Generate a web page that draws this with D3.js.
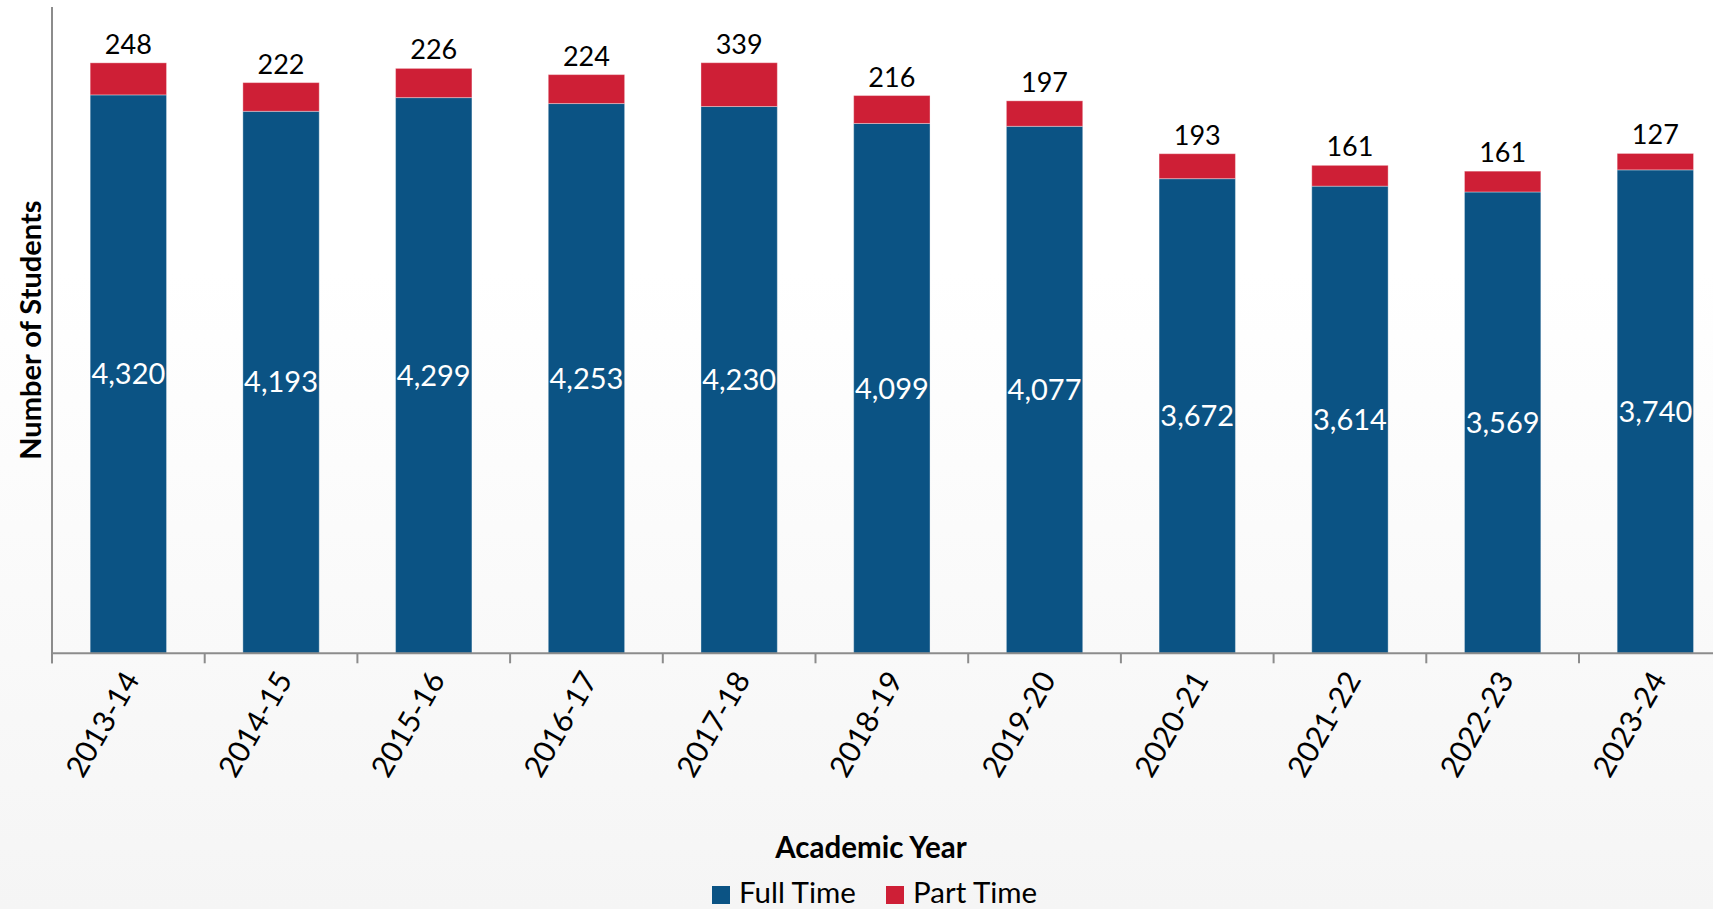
<!DOCTYPE html>
<html>
<head>
<meta charset="utf-8">
<script src="https://cdn.jsdelivr.net/npm/d3@7"></script>
<style>
  html, body { margin: 0; padding: 0; overflow: hidden; }
  body { width: 1713px; height: 909px; background: linear-gradient(#ffffff 0%, #ffffff 30%, #f5f5f5 100%); }
  svg { display: block; font-family: Lato, "Open Sans", sans-serif; }
</style>
</head>
<body>
<svg id="chart" width="1713" height="909"></svg>
<script>
const years = ["2013-14","2014-15","2015-16","2016-17","2017-18","2018-19","2019-20","2020-21","2021-22","2022-23","2023-24"];
const fullTime = [4320, 4193, 4299, 4253, 4230, 4099, 4077, 3672, 3614, 3569, 3740];
const partTime = [248, 222, 226, 224, 339, 216, 197, 193, 161, 161, 127];
const seriesNames = ["Full Time", "Part Time"];
const seriesColors = ["#0b5384", "#ce1f36"];
const yMax = 5000;

const svg = d3.select("#chart");
const plotLeft = 52, plotTop = 7, baseline = 653.3;
const step = 152.7;

const x = d3.scaleBand().domain(years).range([plotLeft, plotLeft + step * years.length]).paddingInner(0.5).paddingOuter(0.25);
const y = d3.scaleLinear().domain([0, yMax]).range([baseline, plotTop]);

const data = years.map((yr, i) => ({ year: yr, ft: fullTime[i], pt: partTime[i] }));
const stack = d3.stack().keys(["ft", "pt"])(data);

const g = svg.append("g");
stack.forEach((layer, li) => {
  g.selectAll(null).data(layer).enter().append("rect")
    .attr("x", d => x(d.data.year))
    .attr("width", x.bandwidth())
    .attr("y", d => y(d[1]))
    .attr("height", d => y(d[0]) - y(d[1]))
    .attr("fill", seriesColors[li])
    .attr("stroke", "rgba(255,255,255,0.35)")
    .attr("stroke-width", 1);
});

// Axes
const axisColor = "#8c8c8c";
svg.append("line").attr("x1", plotLeft).attr("x2", 1713).attr("y1", baseline).attr("y2", baseline)
  .attr("stroke", axisColor).attr("stroke-width", 2);
svg.append("line").attr("x1", plotLeft).attr("x2", plotLeft).attr("y1", plotTop).attr("y2", baseline + 10)
  .attr("stroke", axisColor).attr("stroke-width", 2);
const tickXs = years.map(yr => x(yr) - x.step() * 0.25);
svg.selectAll(null).data(tickXs).enter().append("line")
  .attr("x1", d => d).attr("x2", d => d).attr("y1", baseline).attr("y2", baseline + 10)
  .attr("stroke", axisColor).attr("stroke-width", 2);

// Labels: part time above
svg.selectAll(null).data(data).enter().append("text")
  .attr("x", d => x(d.year) + x.bandwidth() / 2)
  .attr("y", d => y(d.ft + d.pt) - 9)
  .attr("text-anchor", "middle")
  .attr("font-size", 27)
  .attr("fill", "#000")
  .text(d => d3.format(",")(d.pt));

// Labels: full time centered
svg.selectAll(null).data(data).enter().append("text")
  .attr("x", d => x(d.year) + x.bandwidth() / 2)
  .attr("y", d => (y(d.ft) + y(0)) / 2)
  .attr("dy", "0.35em")
  .attr("text-anchor", "middle")
  .attr("font-size", 29)
  .attr("fill", "#fff")
  .text(d => d3.format(",")(d.ft));

// X labels
svg.selectAll(null).data(years).enter().append("text")
  .attr("transform", d => `translate(${x(d) + x.bandwidth() / 2 + 3},${baseline + 21}) rotate(-60)`)
  .attr("text-anchor", "end")
  .attr("dy", "0.35em")
  .attr("font-size", 30)
  .attr("fill", "#000")
  .text(d => d);

// Axis titles
svg.append("text")
  .attr("transform", `translate(${41},${(plotTop + baseline) / 2}) rotate(-90)`)
  .attr("text-anchor", "middle")
  .attr("font-size", 29)
  .attr("font-weight", "bold")
  .text("Number of Students");

svg.append("text")
  .attr("x", 871).attr("y", 858)
  .attr("text-anchor", "middle")
  .attr("font-size", 29.5)
  .attr("font-weight", "bold")
  .text("Academic Year");

// Legend
const legendItems = [
  { name: seriesNames[0], color: seriesColors[0], x: 712 },
  { name: seriesNames[1], color: seriesColors[1], x: 886 }
];
const lg = svg.selectAll(null).data(legendItems).enter().append("g")
  .attr("transform", d => `translate(${d.x},886)`);
lg.append("rect").attr("width", 18).attr("height", 18).attr("fill", d => d.color);
lg.append("text").attr("x", 27).attr("y", 16.5).attr("font-size", 29.5).attr("fill", "#000").text(d => d.name);
</script>
</body>
</html>
